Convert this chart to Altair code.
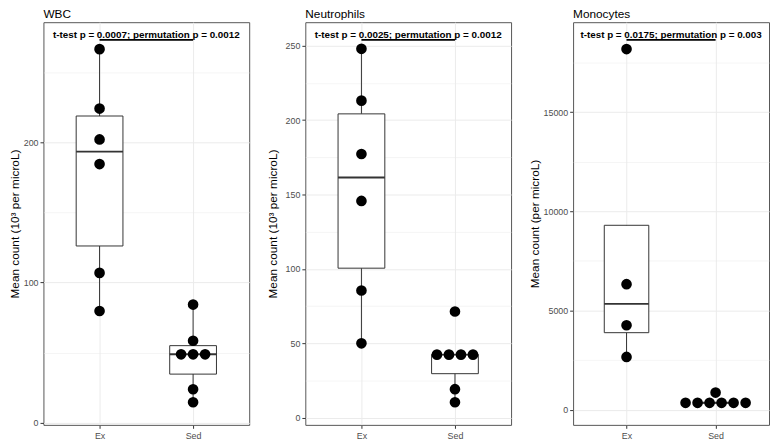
import altair as alt
import pandas as pd

# ---------------- data ----------------
panels = ["WBC", "Neutrophils", "Monocytes"]
groups = ["Ex", "Sed"]
y_titles = ["Mean count (10³ per microL)", "Mean count (10³ per microL)", "Mean count (per microL)"]

dots_ex = [
    [266.4, 224.0, 202.0, 184.4, 106.8, 79.6],
    [247.9, 213.1, 177.2, 145.7, 85.5, 50.0],
    [18180, 6326, 4256, 2657],
]
dots_sed = [
    [84.2, 58.4, 48.7, 48.7, 48.7, 23.8, 14.5],
    [71.4, 42.4, 42.4, 42.4, 42.4, 19.2, 10.4],
    [861, 342, 342, 342, 342, 342, 342],
]

# box statistics: [lower whisker, q1, median, q3, upper whisker]
box_ex = [
    [79.6, 126.0, 193.3, 218.7, 266.4],
    [50.0, 100.5, 161.4, 204.2, 247.9],
    [2657, 3880, 5333, 9295, 9295],
]
box_sed = [
    [14.5, 34.6, 48.7, 54.9, 84.2],
    [10.4, 29.6, 42.4, 42.4, 42.4],
    [342, 342, 342, 342, 342],
]

sig_labels = [
    "t-test p = 0.0007; permutation p = 0.0012",
    "t-test p = 0.0025; permutation p = 0.0012",
    "t-test p = 0.0175; permutation p = 0.003",
]
sig_y = [273, 254, 18640]

y_domains = [[-1.6, 285.6], [-4.8, 265.8], [-768, 19535]]
y_major = [[0, 100, 200], [0, 50, 100, 150, 200, 250], [0, 5000, 10000, 15000]]
y_minor = [[50, 150, 250], [25, 75, 125, 175, 225], [2500, 7500, 12500, 17500]]

# ---------------- layout / style ----------------
widths = [209, 209, 199]
HEIGHT = 409
title_pads = [1.5, 5.5, 1.5]
DOT_PX = 12.2
BOX_HALF = 0.25
FONT = "Liberation Sans"
DARK = "#333333"
BORDER = "#555555"
GRID = "#EBEBEB"


def make_panel(i):
    w = widths[i]
    unit_px = w / 2.2
    rows = []
    for gi, (g, vals) in enumerate(zip(groups, [dots_ex[i], dots_sed[i]])):
        counts = {}
        for v in vals:
            counts[v] = counts.get(v, 0) + 1
        seen = {}
        for v in vals:
            k = seen.get(v, 0)
            seen[v] = k + 1
            slot = k - (counts[v] - 1) / 2
            rows.append({"group": g, "value": v, "xd": gi + 1 + slot * DOT_PX / unit_px})
    dots = pd.DataFrame(rows)

    boxes = pd.DataFrame([
        {"group": g, "idx": gi + 1, "xl": gi + 1 - BOX_HALF, "xr": gi + 1 + BOX_HALF,
         "lo": b[0], "q1": b[1], "med": b[2], "q3": b[3], "hi": b[4]}
        for gi, (g, b) in enumerate(zip(groups, [box_ex[i], box_sed[i]]))
    ])
    sig = pd.DataFrame([{"x1": 1, "x2": 2, "xm": 1.5, "sy": sig_y[i], "label": sig_labels[i]}])

    step = y_major[i][1] - y_major[i][0]
    test = f"datum.value % {step} === 0"
    yscale = alt.Scale(domain=y_domains[i], nice=False, zero=False)
    yaxis = alt.Axis(
        values=sorted(y_major[i] + y_minor[i]),
        title=y_titles[i],
        titlePadding=title_pads[i],
        format="d",
        labelOverlap=False,
        labelExpr=f"{test} ? datum.label : ''",
        grid=True,
        gridColor=GRID,
        gridWidth={"condition": {"test": test, "value": 1.0}, "value": 0.5},
        tickOpacity={"condition": {"test": test, "value": 1}, "value": 0},
    )
    xscale = alt.Scale(domain=[0.4, 2.6], nice=False, zero=False)
    label_expr = " : ".join(
        [f"datum.value === {k + 1} ? '{g}'" for k, g in enumerate(groups[:-1])] + [f"'{groups[-1]}'"]
    )
    xaxis = alt.Axis(values=[1, 2], labelExpr=label_expr, title=None, grid=True,
                     gridColor=GRID, gridWidth=1, labelPadding=3)

    whisk = alt.Chart(boxes).mark_rule(color=DARK, strokeWidth=1).encode(
        x=alt.X("idx:Q", scale=xscale, axis=xaxis),
        y=alt.Y("lo:Q", scale=yscale, axis=yaxis),
        y2="hi:Q",
    )
    box = alt.Chart(boxes).mark_rect(fill="white", stroke=DARK, strokeWidth=1).encode(
        x=alt.X("xl:Q", scale=xscale, axis=xaxis),
        x2="xr:Q",
        y=alt.Y("q1:Q", scale=yscale, axis=yaxis),
        y2="q3:Q",
    )
    med = alt.Chart(boxes).mark_rule(color=DARK, strokeWidth=2).encode(
        x=alt.X("xl:Q", scale=xscale, axis=xaxis),
        x2="xr:Q",
        y=alt.Y("med:Q", scale=yscale, axis=yaxis),
    )
    pts = alt.Chart(dots).mark_circle(size=117, color="black", opacity=1).encode(
        x=alt.X("xd:Q", scale=xscale, axis=xaxis),
        y=alt.Y("value:Q", scale=yscale, axis=yaxis),
    )
    sig_line = alt.Chart(sig).mark_rule(color="black", strokeWidth=1.8).encode(
        x=alt.X("x1:Q", scale=xscale, axis=xaxis),
        x2="x2:Q",
        y=alt.Y("sy:Q", scale=yscale, axis=yaxis),
    )
    sig_text = alt.Chart(sig).mark_text(
        font=FONT, fontSize=10, fontWeight="bold", color="black",
        baseline="alphabetic", align="center", dy=-2,
    ).encode(
        x=alt.X("xm:Q", scale=xscale, axis=xaxis),
        y=alt.Y("sy:Q", scale=yscale, axis=yaxis),
        text="label:N",
    )
    return alt.layer(whisk, box, med, pts, sig_line, sig_text).properties(
        width=w, height=HEIGHT,
        title=alt.TitleParams(panels[i], anchor="start", frame="group", fontSize=12,
                              font=FONT, fontWeight="normal", color="black", offset=1.5),
    )


chart = alt.hconcat(*[make_panel(i) for i in range(3)], spacing=16).properties(
    padding={"top": -4, "left": 0, "right": 0, "bottom": 0}
).configure_view(
    stroke=BORDER, strokeWidth=1
).configure_axis(
    domain=False,
    tickColor=DARK,
    tickSize=3.5,
    labelPadding=2,
    labelColor="#4D4D4D",
    labelFontSize=9,
    labelFont=FONT,
    titleFont=FONT,
    titleFontSize=12,
    titleFontWeight="normal",
    titleColor="black",
)

chart.save("out.html", embed_options={"renderer": "svg", "actions": False})
